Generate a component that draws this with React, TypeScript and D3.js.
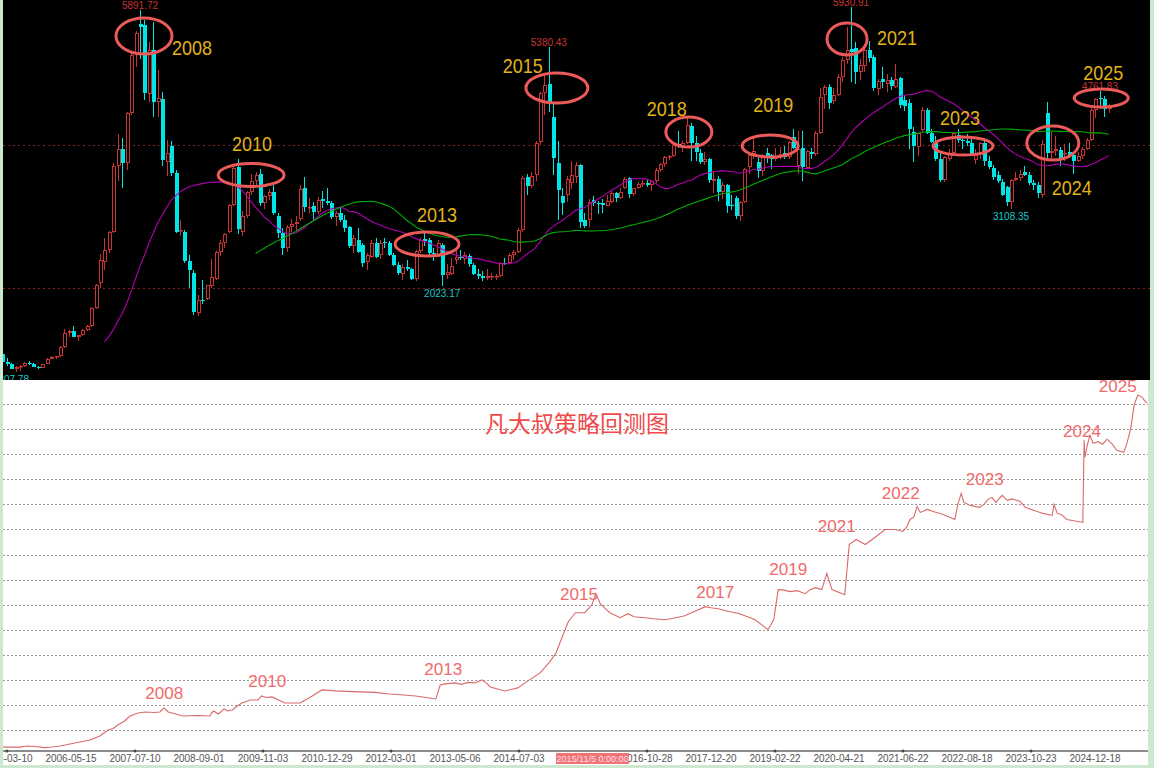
import * as d3 from 'd3';

// 沪深300 月K线 [开, 高, 低, 收]，2005-01 起
const k2005 = [[1000,1009,962,982],[982,1075,970,1063],[1063,1070,930,950],[955,1010,905,925],[925,940,850,860],[860,900,807.78,885],[885,910,830,895],[895,960,880,945],[945,975,915,930],[930,935,880,890],[890,905,860,875],[875,930,870,925]];
const k2006 = [[925,1010,920,1000],[1000,1040,990,1025],[1025,1045,1000,1035],[1035,1175,1030,1165],[1165,1420,1150,1360],[1360,1400,1300,1390],[1390,1460,1300,1310],[1310,1340,1250,1335],[1335,1420,1320,1400],[1400,1470,1390,1460],[1460,1720,1450,1710],[1710,2045,1700,2035]];
const k2007 = [[2060,2470,2000,2390],[2360,2700,2250,2530],[2530,2800,2480,2780],[2780,3750,2770,3710],[3710,4150,3500,3950],[3950,4100,3400,3750],[3750,4470,3650,4450],[4450,5300,4420,5260],[5290,5600,5100,5570],[5700,5891.72,5200,5660],[5680,5750,4630,4730],[4710,5450,4600,5330]];
const k2008 = [[5330,5720,4400,4600],[4610,5050,4390,4660],[4650,4750,3700,3790],[3765,4070,3560,3885],[3990,4050,3560,3610],[3610,3650,2760,2780],[2790,2950,2720,2810],[2780,2810,2340,2375],[2375,2450,1990,2240],[2210,2250,1610,1660],[1645,1900,1600,1825],[1825,2105,1770,1810]];
const k2009 = [[1840,2040,1820,2035],[2025,2400,2000,2145],[2120,2510,2100,2500],[2500,2660,2440,2625],[2625,2770,2560,2750],[2780,3170,2760,3155],[3160,3700,3150,3680],[3690,3803,2750,2820],[2780,3080,2720,3000],[3000,3350,2980,3340],[3340,3600,3300,3490],[3500,3620,3420,3575]];
const k2010 = [[3590,3660,3150,3190],[3190,3300,3100,3290],[3290,3380,3230,3340],[3340,3440,3020,3040],[3010,3040,2700,2770],[2765,2840,2450,2555],[2555,2880,2500,2850],[2850,2960,2780,2890],[2890,3000,2800,2920],[2960,3440,2930,3380],[3390,3550,3060,3130],[3110,3250,3040,3130]];
const k2011 = [[3140,3200,2950,3060],[3060,3270,3030,3230],[3240,3360,3120,3220],[3215,3400,3160,3190],[3185,3220,2960,2990],[2990,3080,2860,3045],[3045,3120,2920,2950],[2945,3020,2780,2835],[2850,2870,2550,2585],[2580,2730,2480,2695],[2665,2830,2480,2500],[2595,2620,2290,2345]];
const k2012 = [[2360,2480,2240,2455],[2430,2670,2420,2625],[2625,2700,2410,2430],[2450,2660,2400,2625],[2640,2700,2560,2630],[2620,2650,2440,2460],[2460,2480,2300,2320],[2320,2360,2180,2200],[2195,2330,2110,2290],[2290,2390,2230,2255],[2255,2280,2100,2120],[2120,2530,2090,2512]];
const k2013 = [[2512,2700,2480,2666],[2680,2790,2580,2650],[2660,2690,2460,2485],[2485,2560,2370,2470],[2460,2660,2440,2630],[2600,2620,2023.17,2175],[2180,2330,2120,2220],[2190,2420,2180,2300],[2385,2560,2330,2425],[2430,2520,2390,2410],[2400,2500,2330,2450],[2440,2470,2290,2330]];
const k2014 = [[2315,2340,2170,2185],[2190,2260,2120,2165],[2155,2230,2090,2140],[2140,2260,2110,2160],[2150,2200,2100,2160],[2155,2190,2110,2165],[2160,2360,2150,2345],[2350,2420,2310,2340],[2340,2480,2330,2455],[2455,2520,2380,2500],[2500,2830,2480,2810],[2810,3560,2780,3535]];
const k2015 = [[3550,3600,3300,3430],[3430,3620,3400,3570],[3580,4060,3500,4035],[4040,4750,4000,4730],[4730,5000,4420,4840],[4855,5380.43,4460,4605],[4390,4600,3580,3820],[3750,4050,2950,3370],[3285,3400,3020,3190],[3300,3560,3200,3520],[3470,3770,3380,3580],[3555,3760,3460,3720]];
const k2016 = [[3720,3730,2840,2920],[2945,3050,2830,2865],[2947,3240,2850,3200],[3230,3290,3140,3180],[3190,3220,3030,3170],[3190,3240,3040,3155],[3150,3300,3140,3210],[3200,3360,3190,3325],[3325,3340,3200,3255],[3255,3390,3240,3335],[3395,3550,3380,3520],[3535,3550,3250,3310]];
const k2017 = [[3310,3400,3290,3390],[3390,3480,3380,3455],[3455,3510,3410,3465],[3470,3510,3410,3440],[3440,3510,3350,3495],[3495,3680,3460,3650],[3650,3750,3620,3735],[3735,3840,3690,3825],[3825,3860,3790,3840],[3840,4030,3830,4005],[4010,4200,3960,4000],[3990,4060,3900,4030]];
const k2018 = [[4030,4400,4020,4275],[4270,4310,3780,4025],[4025,4130,3780,3900],[3890,3950,3730,3760],[3760,3900,3720,3800],[3810,3820,3470,3510],[3490,3620,3330,3520],[3520,3560,3220,3335],[3335,3480,3240,3440],[3440,3450,3040,3150],[3155,3300,3090,3140],[3250,3280,2960,3010]];
const k2019 = [[3000,3220,2935,3200],[3200,3680,3190,3670],[3690,3900,3590,3860],[3870,4130,3800,3910],[3760,3820,3540,3630],[3630,3870,3560,3830],[3885,3960,3750,3840],[3860,3880,3660,3800],[3800,3960,3780,3850],[3850,3970,3800,3880],[3890,3990,3800,3830],[3830,4050,3800,4040]];
const k2020 = [[4110,4230,3940,3960],[3700,4200,3600,3950],[3960,4200,3500,3690],[3680,3930,3670,3910],[3900,3960,3800,3870],[3880,4200,3850,4165],[4170,4800,4160,4680],[4700,4840,4500,4815],[4810,4850,4500,4590],[4620,4800,4570,4700],[4700,5000,4690,4955],[4955,5230,4880,5195]];
const k2021 = [[5195,5650,5140,5335],[5345,5930.91,4880,5310],[5355,5450,4860,5030],[5030,5200,4910,5120],[5110,5400,5020,5330],[5330,5460,5170,5220],[5230,5260,4760,4800],[4790,4920,4700,4900],[4925,5100,4800,4880],[4860,5000,4750,4910],[4910,4960,4770,4830],[4820,5130,4800,4930]];
const k2022 = [[4940,4960,4520,4560],[4630,4700,4480,4550],[4590,4650,3950,4220],[4185,4250,3760,3990],[3975,4170,3850,4165],[4210,4530,4180,4490],[4490,4520,4150,4170],[4170,4230,4030,4040],[4030,4130,3780,3800],[3800,3920,3480,3510],[3510,3850,3480,3830],[3800,3950,3780,3880]];
const k2023 = [[3890,4180,3880,4165],[4140,4220,4030,4070],[4070,4110,3940,4050],[4050,4150,3980,4030],[4030,4110,3840,3860],[3790,3950,3740,3860],[3860,4040,3800,4030],[4030,4060,3700,3770],[3770,3850,3660,3690],[3680,3720,3510,3550],[3580,3640,3460,3500],[3480,3520,3280,3300]];
const k2024 = [[3410,3420,3150,3200],[3200,3520,3108.35,3510],[3510,3620,3500,3540],[3540,3650,3500,3600],[3620,3710,3560,3580],[3580,3620,3440,3460],[3460,3510,3370,3440],[3440,3480,3260,3330],[3300,4070,3260,4010],[4450,4597,3790,3890],[3890,4180,3800,3920],[3920,4120,3850,3940]];
const k2025 = [[3930,3970,3700,3820],[3875,4020,3780,3890],[3905,4030,3820,3840],[3860,3870,3600,3770],[3770,3900,3760,3840],[3840,3970,3800,3940],[3940,4100,3930,4075],[4070,4520,4050,4490],[4490,4660,4380,4640],[4660,4761.83,4510,4640],[4640,4690,4400,4500],[4500,4580,4450,4530]];

const kline = [...k2005, ...k2006, ...k2007, ...k2008, ...k2009, ...k2010, ...k2011, ...k2012, ...k2013,
  ...k2014, ...k2015, ...k2016, ...k2017, ...k2018, ...k2019, ...k2020, ...k2021, ...k2022, ...k2023, ...k2024, ...k2025];

// 圈出的年份（月序号、指数位置）
const circleYears = ['2008', '2010', '2013', '2015', '2018', '2019', '2021', '2023', '2024', '2025'];
const circleMonth = [33.9, 58, 97.6, 126.8, 156.5, 174.8, 192.1, 218.2, 238.4, 249.3];
const circleValue = [5530, 3579, 2610, 4800, 4182, 3986, 5488, 3986, 4028, 4660];

// 标注的最高/最低点（月序号）
const highMarks = [33, 125, 193, 249];
const lowMarks = [5, 101, 229];

// 回测净值曲线：t 为横轴刻度序号（每个日期标签一格），v 为净值刻度
const equityT = [-0.06,0.2,0.32,0.44,0.59,0.7,0.83,1.06,1.3,1.45,1.58,1.66,1.73,1.84,1.92,2.05,2.16,2.3,2.39,2.45,2.52,2.75,3.0,3.17,3.2,3.23,3.3,3.34,3.39,3.45,3.52,3.6,3.67,3.8,3.92,3.98,4.05,4.14,4.34,4.58,4.77,4.92,5.13,5.3,5.52,5.75,5.98,6.2,6.38,6.55,6.7,6.77,6.85,7.0,7.1,7.2,7.31,7.42,7.48,7.55,7.78,7.98,8.14,8.33,8.48,8.58,8.67,8.77,8.88,9.03,9.14,9.2,9.27,9.34,9.42,9.58,9.7,9.8,9.97,10.1,10.28,10.45,10.59,10.75,10.91,11.0,11.11,11.3,11.45,11.69,11.89,11.98,12.05,12.15,12.23,12.35,12.47,12.55,12.63,12.73,12.81,12.89,13.09,13.16,13.27,13.41,13.56,13.72,13.88,14.0,14.06,14.11,14.17,14.22,14.27,14.38,14.5,14.63,14.81,14.86,14.91,14.95,15.05,15.2,15.28,15.33,15.39,15.45,15.55,15.63,15.7,15.83,15.91,16.05,16.19,16.33,16.36,16.41,16.47,16.56,16.81,16.83,16.84,16.88,16.92,16.97,17.05,17.12,17.19,17.27,17.34,17.45,17.5,17.56,17.61,17.67,17.73,17.81];
const equityV = [0.32,0.32,0.36,0.34,0.3,0.32,0.36,0.48,0.6,0.76,1.0,1.06,1.2,1.36,1.56,1.68,1.72,1.7,1.72,1.88,1.72,1.56,1.58,1.56,1.7,1.76,1.64,1.72,1.84,1.76,1.8,1.96,2.08,2.2,2.2,2.36,2.3,2.32,2.08,2.08,2.36,2.6,2.56,2.54,2.52,2.5,2.44,2.4,2.36,2.3,2.24,2.8,2.84,2.88,2.82,2.9,2.88,3.0,2.9,2.72,2.56,2.68,2.96,3.28,3.72,4.08,4.68,5.32,5.68,5.68,6.0,6.44,6.04,5.86,5.68,5.48,5.64,5.52,5.48,5.44,5.4,5.48,5.56,5.74,5.92,5.88,5.84,5.72,5.64,5.4,5.0,5.4,6.6,6.58,6.52,6.56,6.44,6.6,6.68,6.6,7.24,6.6,6.4,8.4,8.6,8.4,8.68,9.0,9.0,8.92,9.1,9.4,9.5,9.92,9.68,9.8,9.7,9.6,9.4,10.04,10.44,10.08,9.96,9.88,10.04,10.2,10.28,10.08,10.36,10.16,10.22,10.12,9.88,9.76,9.64,9.56,10.0,9.64,9.6,9.4,9.28,12.56,11.88,12.36,12.76,12.44,12.5,12.4,12.6,12.4,12.16,12.08,12.44,13.04,13.96,14.36,14.28,14.04];

const dateLabels = ['2005-03-10', '2006-05-15', '2007-07-10', '2008-09-01', '2009-11-03', '2010-12-29', '2012-03-01',
  '2013-05-06', '2014-07-03', '', '2016-10-28', '2017-12-20', '2019-02-22', '2020-04-21', '2021-06-22',
  '2022-08-18', '2023-10-23', '2024-12-18'];

const noteYears = ['2008', '2010', '2013', '2015', '2017', '2019', '2021', '2022', '2023', '2024', '2025'];
const noteT = [2.16, 3.77, 6.52, 8.64, 10.77, 11.91, 12.67, 13.67, 14.98, 16.5, 17.06];
const noteV = [2.24, 2.72, 3.2, 6.19, 6.27, 7.18, 8.9, 10.21, 10.77, 12.69, 14.48];

const cursorLabel = '2015/11/5 0:00:00';

// 圈的大小和年份字的偏移（像素）
const circleR = [[28, 18], [33, 11.5], [32, 12], [31, 15], [23, 15], [28, 11], [20, 16], [30, 9], [26, 17], [27, 9]];
const yearOff = [[28, 19], [-19, -24], [-10, -22], [-54, -15], [-42, -16], [-17, -34], [30, 6], [-23, -21], [-1, 52], [-18, -18]];

const W = 1154;
const H = 768;
const RED = '#c83434';
const CYAN = '#00e6e6';
const AXIS_Y = 751;

function movingAverage(values: number[], n: number) {
  return values.map((_, i) => (i < n - 1 ? null : d3.mean(values.slice(i - n + 1, i + 1)) as number));
}

export default function App() {
  const x = d3.scaleLinear().domain([0, 251]).range([-6.65, 1108.8]);
  const y = d3.scaleLinear().domain([0, 6000]).range([430, 2.5]);
  const closes = kline.map((d) => d[3]);
  const ma26 = movingAverage(closes, 26);
  const ma60 = movingAverage(closes, 60);
  const maLine = d3
    .line<number | null>()
    .defined((d) => d != null)
    .x((_, i) => x(i))
    .y((d) => y(d as number));

  const bx = d3.scaleLinear().domain([0, 17]).range([7, 1095]);
  const by = d3.scaleLinear().domain([0, 14]).range([755.1, 404.1]);
  const eqLine = d3
    .line<number>()
    .x((_, i) => bx(equityT[i]))
    .y((d) => by(d));
  const grid = d3.range(1, 15);

  return (
    <div style={{ position: 'absolute', left: 0, top: 0 }}>
      <svg width={W} height={H} style={{ display: 'block' }} fontFamily="'Liberation Sans', Arial, sans-serif">
        <defs>
          <clipPath id="topClip">
            <rect x={3} y={0} width={1147} height={380} />
          </clipPath>
          <clipPath id="botClip">
            <rect x={3} y={380} width={1145} height={385} />
          </clipPath>
          <clipPath id="afterCursor">
            <rect x={629} y={740} width={100} height={30} />
          </clipPath>
        </defs>
        <rect width={W} height={H} fill="#cce8cf" />

        {/* 上方：月K线 */}
        <rect x={3} y={0} width={1147} height={380} fill="#000" />
        <g clipPath="url(#topClip)">
          {[2000, 4000].map((v) => (
            <line key={v} x1={3} x2={1150} y1={Math.round(y(v)) + 0.5} y2={Math.round(y(v)) + 0.5}
              stroke="#8a2020" strokeDasharray="2,3" />
          ))}
          {kline.map((d, i) => {
            const [o, h, l, c] = d;
            const cx = Math.round(x(i));
            const up = c >= o;
            const col = up ? RED : CYAN;
            const top = Math.round(y(Math.max(o, c)));
            const bot = Math.max(top + 1, Math.round(y(Math.min(o, c))));
            const yh = Math.round(y(h));
            const yl = Math.round(y(l));
            return (
              <g key={i}>
                <line x1={cx + 0.5} x2={cx + 0.5} y1={yh} y2={top} stroke={col} />
                <line x1={cx + 0.5} x2={cx + 0.5} y1={bot} y2={yl} stroke={col} />
                {up ? (
                  <rect x={cx - 0.5} y={top + 0.5} width={3} height={Math.max(bot - top - 1, 0.5)} fill="#000" stroke={col} />
                ) : (
                  <rect x={cx - 1} y={top} width={4} height={bot - top} fill={col} />
                )}
              </g>
            );
          })}
          <path d={maLine(ma26) ?? ''} fill="none" stroke="#b000b0" strokeWidth={1.1} />
          <path d={maLine(ma60) ?? ''} fill="none" stroke="#00b000" strokeWidth={1.1} />

          {highMarks.map((i) => (
            <text key={'h' + i} x={x(i)} y={y(kline[i][1]) - 1} fontSize={10} fill="#c83434" textAnchor="middle">
              {kline[i][1].toFixed(2)}
            </text>
          ))}
          {lowMarks.map((i) => (
            <text key={'l' + i} x={i === 5 ? 29 : x(i)} y={y(kline[i][2]) + 11} fontSize={10} fill="#19c8c8"
              textAnchor={i === 5 ? 'end' : 'middle'}>
              {kline[i][2].toFixed(2)}
            </text>
          ))}

          {circleYears.map((yr, k) => {
            const cx = x(circleMonth[k]);
            const cy = y(circleValue[k]);
            return (
              <g key={yr}>
                <ellipse cx={cx} cy={cy} rx={circleR[k][0]} ry={circleR[k][1]} fill="none" stroke="#ec5a5a" strokeWidth={3} />
                <text x={cx + yearOff[k][0]} y={cy + yearOff[k][1]} fontSize={21} fill="#e2b31c" textLength={40}
                  lengthAdjust="spacingAndGlyphs">
                  {yr}
                </text>
              </g>
            );
          })}
        </g>

        {/* 下方：策略回测曲线 */}
        <rect x={3} y={380} width={1145} height={385} fill="#fff" />
        <g clipPath="url(#botClip)">
          {grid.map((g) => (
            <line key={g} x1={3} x2={1148} y1={Math.round(by(g)) + 0.5} y2={Math.round(by(g)) + 0.5}
              stroke="#9a9a9a" strokeDasharray="2,2" />
          ))}
          <path d={eqLine(equityV) ?? ''} fill="none" stroke="#d96a6a" strokeWidth={1.1} />
          {noteYears.map((yr, k) => (
            <text key={yr} x={bx(noteT[k])} y={by(noteV[k])} fontSize={16} fill="#f06a6a" textLength={38}
              lengthAdjust="spacingAndGlyphs">
              {yr}
            </text>
          ))}
          <text x={577} y={432} fontSize={23} fill="#f04a4a" textAnchor="middle"
            fontFamily="'Noto Sans CJK SC', sans-serif">
            凡大叔策略回测图
          </text>
          <line x1={3} x2={1148} y1={AXIS_Y} y2={AXIS_Y} stroke="#8c8c8c" strokeWidth={2} />
          {dateLabels.map((lb, k) =>
            k % 2 === 0 ? <circle key={'t' + k} cx={bx(k)} cy={AXIS_Y} r={1.5} fill="#444" /> : null
          )}
          {dateLabels.map((lb, k) => (
            <text key={'d' + k} x={bx(k)} y={AXIS_Y + 11} fontSize={10} fill="#555" textAnchor="middle"
              clipPath={k === 10 ? 'url(#afterCursor)' : undefined}>
              {lb}
            </text>
          ))}
          <rect x={556} y={AXIS_Y + 2} width={73} height={11} fill="#f07474" />
          <text x={592.5} y={AXIS_Y + 11} fontSize={9} fill="#fde" textAnchor="middle">
            {cursorLabel}
          </text>
        </g>
      </svg>
    </div>
  );
}
